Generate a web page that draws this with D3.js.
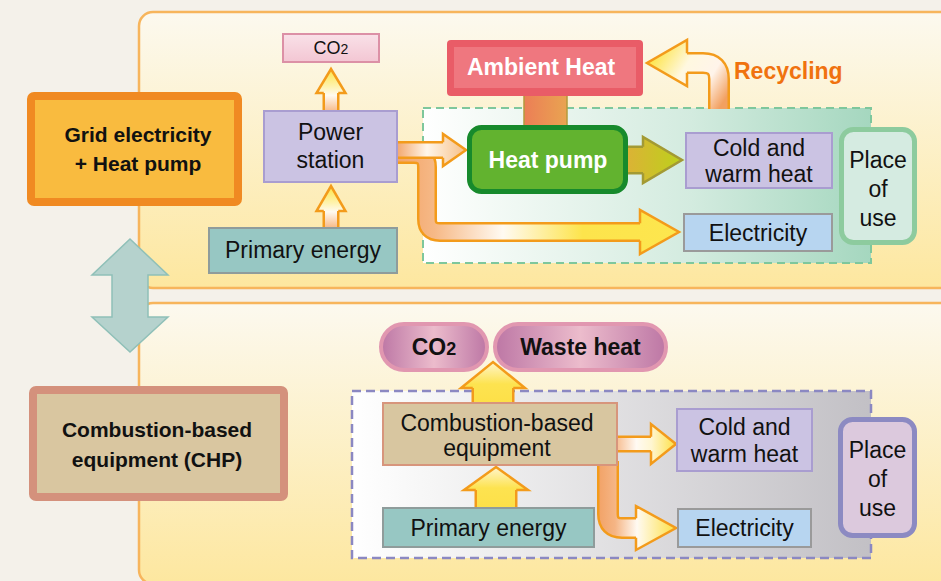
<!DOCTYPE html>
<html>
<head>
<meta charset="utf-8">
<script src="https://cdn.jsdelivr.net/npm/d3@7"></script>
<style>
  body { margin: 0; background: #f4f1ea; }
  svg { display: block; }
  text { font-family: "Liberation Sans", Arial, Helvetica, sans-serif; }
</style>
</head>
<body>
<svg id="chart" width="941" height="581"></svg>
<script>
// labels (\n = new line, _ = subscript)
var modeLabels = ["Grid electricity\n+ Heat pump", "Combustion-based\nequipment (CHP)"];
var gridLabels = ["CO_2", "Power\nstation", "Primary energy", "Cold and\nwarm heat", "Electricity"];
var pumpLabels = ["Ambient Heat", "Heat pump"];
var placeLabel = "Place\nof\nuse";
var flowLabels = ["Recycling"];
var chpOutputs = ["CO_2", "Waste heat"];
var chpLabels = ["Combustion-based\nequipment", "Primary energy", "Cold and\nwarm heat", "Electricity"];

// layout: boxes as [x, y, w, h]
var gridBoxes = [[283, 34, 96, 28], [264, 111, 133, 71], [209, 228, 188, 45], [686, 133, 146, 55], [684, 214, 148, 37]];
var gridFills = ["url(#pinkBox)", "#cbc3e3", "#97c7c3", "#cbc3e3", "#b7d5f0"];
var gridStrokes = ["#dc90a6", "#a99dd0", "#8f9c9b", "#a99dd0", "#9a9a9a"];
var chpBoxes = [[383, 403, 234, 62], [383, 508, 211, 39], [677, 409, 135, 62], [678, 509, 133, 38]];
var chpFills = ["#d8c6a0", "#97c7c3", "#cbc3e3", "#b7d5f0"];
var chpStrokes = ["#d7957c", "#8f9c9b", "#a99dd0", "#9a9a9a"];
var pillBoxes = [[381, 324, 106, 46], [495, 324, 171, 46]];

var svg = d3.select("#chart");
var defs = svg.append("defs");

function grad(id, x1, y1, x2, y2, stops, user) {
  var g = defs.append("linearGradient").attr("id", id)
    .attr("x1", x1).attr("y1", y1).attr("x2", x2).attr("y2", y2);
  if (user) g.attr("gradientUnits", "userSpaceOnUse");
  stops.forEach(function(s) {
    g.append("stop").attr("offset", s[0]).attr("stop-color", s[1]);
  });
  return "url(#" + id + ")";
}

grad("panel", 0, 0, 0, 1, [[0, "#fcf9ef"], [1, "#fde79f"]]);
grad("greenZone", 0, 0, 1, 0, [[0, "#ffffff"], [0.15, "#f4faf6"], [0.6, "#d3ebdf"], [1, "#a5d7bf"]]);
grad("grayZone", 0, 0, 1, 0, [[0, "#ffffff"], [0.15, "#f6f6f6"], [1, "#c2c0c5"]]);
grad("pinkBox", 0, 0, 0, 1, [[0, "#f9e1e8"], [1, "#f3c6d3"]]);
grad("pill", 0, 0, 1, 0, [[0, "#bd77a5"], [0.5, "#ecbccc"], [1, "#bd77a5"]]);
grad("connector", 0, 0, 1, 0, [[0, "#ec7e56"], [1, "#e9a451"]]);

function label(g, text, cx, cy, o) {
  var lines = text.split("\n"), fs = o.size, lh = o.lh || fs * 1.2;
  var t = g.append("text")
    .attr("text-anchor", o.anchor || "middle")
    .attr("font-size", fs)
    .attr("font-weight", o.bold ? "bold" : "normal")
    .attr("fill", o.color || "#111");
  lines.forEach(function(line, i) {
    var y = cy + (i - (lines.length - 1) / 2) * lh + fs * 0.716 / 2;
    var parts = line.split("_");
    t.append("tspan").attr("x", cx).attr("y", y).text(parts[0]);
    if (parts[1]) t.append("tspan").attr("font-size", fs * 0.78).text(parts[1]);
  });
}

function unit(a, b) {
  var dx = b[0] - a[0], dy = b[1] - a[1], L = Math.hypot(dx, dy);
  return [dx / L, dy / L];
}

function roundedPath(pts, r) {
  var d = "M" + pts[0];
  for (var i = 1; i < pts.length - 1; i++) {
    var p = pts[i], d1 = unit(pts[i - 1], p), d2 = unit(p, pts[i + 1]);
    d += "L" + [p[0] - d1[0] * r, p[1] - d1[1] * r] +
         "Q" + p + " " + [p[0] + d2[0] * r, p[1] + d2[1] * r];
  }
  return d + "L" + pts[pts.length - 1];
}

// block arrow along a centre line, last point is the tip
function blockArrow(g, a) {
  var n = a.pts.length, tip = a.pts[n - 1];
  var dir = unit(a.pts[n - 2], tip), nrm = [-dir[1], dir[0]];
  var back = [tip[0] - dir[0] * a.hl, tip[1] - dir[1] * a.hl];
  var into = [back[0] + dir[0] * 1.5, back[1] + dir[1] * 1.5];
  var d = roundedPath(a.pts.slice(0, n - 1).concat([into]), a.r || 0);
  var sw = 2.5, col = a.line || "#f39b1b";
  var off = function(p, k) { return [p[0] + nrm[0] * k, p[1] + nrm[1] * k]; };

  g.append("path").attr("d", d).attr("fill", "none")
    .attr("stroke", col).attr("stroke-width", a.w + 2 * sw);
  g.append("path").attr("d", d).attr("fill", "none")
    .attr("stroke", a.fill).attr("stroke-width", a.w);
  g.append("path").attr("d", "M" + [off(back, a.hw), tip, off(back, -a.hw)].join("L") + "Z")
    .attr("fill", a.fill);
  g.append("path")
    .attr("d", "M" + [off(back, a.w / 2 + sw / 2), off(back, a.hw), tip, off(back, -a.hw), off(back, -(a.w / 2 + sw / 2))].join("L"))
    .attr("fill", "none").attr("stroke", col).attr("stroke-width", sw)
    .attr("stroke-linejoin", "miter");
}

function box(g, b, fill, stroke, sw, rx) {
  g.append("rect").attr("x", b[0]).attr("y", b[1]).attr("width", b[2]).attr("height", b[3])
    .attr("rx", rx || 0).attr("fill", fill).attr("stroke", stroke).attr("stroke-width", sw);
}

// ---------- panels ----------
svg.append("rect").attr("width", 941).attr("height", 581).attr("fill", "#f4f1ea");
var panels = svg.append("g");
panels.append("rect").attr("x", 139).attr("y", 12).attr("width", 830).attr("height", 276)
  .attr("rx", 14).attr("fill", "url(#panel)").attr("stroke", "#f7b55c").attr("stroke-width", 2.5);
panels.append("rect").attr("x", 139).attr("y", 303).attr("width", 830).attr("height", 281)
  .attr("rx", 14).attr("fill", "url(#panel)").attr("stroke", "#f7b55c").attr("stroke-width", 2.5);

// double arrow between the two modes
var dbl = [[130, 239], [168, 275], [148, 275], [148, 317], [168, 317], [130, 352],
           [92, 317], [112, 317], [112, 275], [92, 275]];
svg.append("path").attr("d", "M" + dbl.join("L") + "Z")
  .attr("fill", "#b5d2cd").attr("stroke", "#8fc0b8").attr("stroke-width", 1.5);

// mode boxes
var modes = svg.append("g");
box(modes, [31, 96, 207, 106], "#f9bb3f", "#f08a22", 8, 3);
box(modes, [33, 390, 251, 107], "#d9c6a0", "#d4917c", 8, 3);
label(modes, modeLabels[0], 138, 149, { size: 21, bold: true, lh: 29.5 });
label(modes, modeLabels[1], 157, 444, { size: 21, bold: true, lh: 30 });

// ---------- upper: grid electricity + heat pump ----------
var upper = svg.append("g");
upper.append("rect").attr("x", 423).attr("y", 108).attr("width", 448).attr("height", 155)
  .attr("fill", "url(#greenZone)").attr("stroke", "#7ec79c").attr("stroke-width", 2)
  .attr("stroke-dasharray", "8,5");

upper.append("rect").attr("x", 524).attr("y", 94).attr("width", 43).attr("height", 34)
  .attr("fill", "url(#connector)").attr("stroke", "#b39a3c").attr("stroke-width", 1.5);

var upperArrows = [
  { pts: [[331, 114], [331, 69]], w: 12, hw: 14.5, hl: 24,
    fill: grad("a1", 0, 69, 0, 113, [[0, "#fde545"], [0.4, "#fef3b0"], [0.6, "#fffaf0"], [0.8, "#fbd7b8"], [1, "#f6b47e"]], true) },
  { pts: [[331, 230], [331, 186]], w: 12, hw: 14.5, hl: 25,
    fill: grad("a2", 0, 186, 0, 229, [[0, "#fde545"], [0.4, "#fef3b0"], [0.6, "#fffaf0"], [0.8, "#fbd7b8"], [1, "#f6b47e"]], true) },
  { pts: [[393, 154], [427, 154], [427, 232], [679, 232]], w: 15, hw: 22, hl: 39, r: 13,
    fill: grad("a4", 395, 0, 679, 0, [[0, "#f2a266"], [0.14, "#f6b987"], [0.38, "#fffaf2"], [0.66, "#fde44c"], [1, "#fde64e"]], true) },
  { pts: [[393, 150], [466, 150]], w: 13, hw: 16, hl: 23,
    fill: grad("a3", 395, 0, 466, 0, [[0, "#f2a266"], [0.45, "#fff6ea"], [1, "#f6bf86"]], true) },
  { pts: [[624, 160], [682, 160]], w: 24, hw: 23, hl: 39, line: "#a39a34",
    fill: grad("a5", 626, 0, 682, 0, [[0, "#dcb236"], [1, "#bcd11b"]], true) },
  { pts: [[719, 109], [719, 63], [647, 63]], w: 17, hw: 23, hl: 40, r: 16,
    fill: grad("a6", 719, 109, 647, 64, [[0, "#f2a060"], [0.28, "#fff4ea"], [0.6, "#fff8e0"], [1, "#fde445"]], true) }
];
upperArrows.forEach(function(a) { blockArrow(upper, a); });

gridBoxes.forEach(function(b, i) { box(upper, b, gridFills[i], gridStrokes[i], 2, 0); });
label(upper, gridLabels[0], 331, 48, { size: 18 });
label(upper, gridLabels[1], 330.5, 146, { size: 23, lh: 28.5 });
label(upper, gridLabels[2], 303, 250, { size: 23 });
label(upper, gridLabels[3], 759, 161, { size: 23, lh: 25.5 });
label(upper, gridLabels[4], 758, 232.5, { size: 23 });

// ambient heat and heat pump
box(upper, [447, 40, 196, 56], "#e95c67", "none", 0, 4);
box(upper, [454, 47, 182, 41], "#ef777f", "none", 0, 0);
label(upper, pumpLabels[0], 541, 67, { size: 23, bold: true, color: "#fff" });
box(upper, [469.5, 127.5, 156, 64], "#62b32f", "#178a2c", 5, 12);
label(upper, pumpLabels[1], 548, 160, { size: 23, bold: true, color: "#fff" });

box(upper, [841.5, 129.5, 73, 113], "#d5ebe1", "#8dcb9e", 5, 12);
label(upper, placeLabel, 878, 189, { size: 23, lh: 29 });

upper.append("text").attr("x", 734).attr("y", 79).attr("font-size", 23)
  .attr("font-weight", "bold").attr("fill", "#f0720f").text(flowLabels[0]);

// ---------- lower: combustion-based equipment ----------
var lower = svg.append("g");
lower.append("rect").attr("x", 352).attr("y", 391).attr("width", 519).attr("height", 167)
  .attr("fill", "url(#grayZone)").attr("stroke", "#8b88c2").attr("stroke-width", 2.5)
  .attr("stroke-dasharray", "9,5");

var lowerArrows = [
  { pts: [[493, 405], [493, 362]], w: 38, hw: 32, hl: 26,
    fill: grad("b1", 0, 362, 0, 402, [[0, "#fff5cc"], [0.55, "#fde350"], [1, "#fde048"]], true) },
  { pts: [[496, 510], [496, 467]], w: 38, hw: 32, hl: 23,
    fill: grad("b2", 0, 467, 0, 509, [[0, "#fff5cc"], [0.5, "#fde350"], [1, "#fde048"]], true) },
  { pts: [[613, 444], [676, 444]], w: 12, hw: 20, hl: 25,
    fill: grad("b3", 615, 0, 676, 0, [[0, "#f6b98a"], [0.35, "#fffaf3"], [0.6, "#fff6d0"], [1, "#fde043"]], true) },
  { pts: [[608, 461], [608, 528], [676, 528]], w: 17, hw: 22, hl: 40, r: 14,
    fill: grad("b4", 598, 0, 676, 0, [[0, "#f2a266"], [0.22, "#f5b585"], [0.5, "#fffaf2"], [1, "#fde043"]], true) }
];
lowerArrows.forEach(function(a) { blockArrow(lower, a); });

pillBoxes.forEach(function(b, i) {
  box(lower, b, "url(#pill)", "#e197b0", 4, 23);
  label(lower, chpOutputs[i], b[0] + b[2] / 2, b[1] + b[3] / 2, { size: 23, bold: true });
});

chpBoxes.forEach(function(b, i) { box(lower, b, chpFills[i], chpStrokes[i], 2, 0); });
label(lower, chpLabels[0], 497, 435, { size: 23, lh: 25 });
label(lower, chpLabels[1], 488.5, 527.5, { size: 23 });
label(lower, chpLabels[2], 744.5, 440, { size: 23, lh: 27 });
label(lower, chpLabels[3], 744.5, 528, { size: 23 });

box(lower, [840.5, 419.5, 74, 116], "#dcc9dd", "#8c8ac2", 5, 12);
label(lower, placeLabel, 877.5, 479, { size: 23, lh: 29 });
</script>
</body>
</html>
